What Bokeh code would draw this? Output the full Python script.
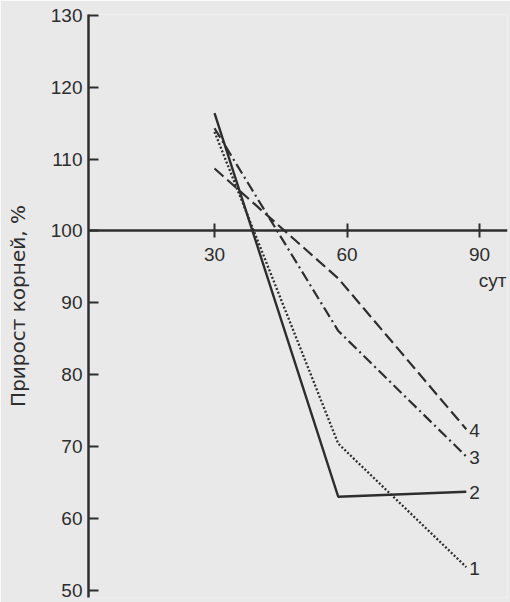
from bokeh.plotting import figure
from bokeh.models import Range1d, LinearAxis, FixedTicker, ColumnDataSource
from bokeh.embed import file_html
from bokeh.resources import INLINE
from bokeh.core.properties import value

# ---- data ----
days = [30, 58, 87]
series_labels = ["1", "2", "3", "4"]
s1 = [113.8, 70.4, 53.2]   # dotted
s2 = [116.4, 63.0, 63.7]   # solid
s3 = [114.3, 86.1, 68.6]   # dash-dot
s4 = [108.7, 93.4, 72.4]   # dashed
y_ticks = [50, 60, 70, 80, 90, 100, 110, 120, 130]
x_ticks = [30, 60, 90]
y_title = "Прирост корней, %"
x_unit = "сут"

INK = "#2e2e2e"
BG = "#e9e9e9"
FONT = "Liberation Sans"

p = figure(width=510, height=602, output_backend="svg", toolbar_location=None,
           x_range=Range1d(1.47, 96.33), y_range=Range1d(48.97, 130.14),
           x_axis_type=None, y_axis_type=None,
           min_border_left=88, min_border_right=3, min_border_top=14, min_border_bottom=5)
p.background_fill_color = BG
p.border_fill_color = BG
p.outline_line_color = None
p.xgrid.visible = False
p.ygrid.visible = False

# y axis
yax = LinearAxis(ticker=FixedTicker(ticks=y_ticks))
yax.axis_line_color = INK
yax.axis_line_width = 2.5
yax.major_tick_line_color = INK
yax.major_tick_line_width = 2
yax.major_tick_in = 10
yax.major_tick_out = 0
yax.minor_tick_line_color = None
yax.major_label_text_font = FONT
yax.major_label_text_font_size = "19px"
yax.major_label_text_color = INK
yax.major_label_standoff = 6
yax.axis_label = y_title
yax.axis_label_text_font = "DejaVu Sans"
yax.axis_label_text_font_size = "20px"
yax.axis_label_text_font_style = "normal"
yax.axis_label_text_color = INK
yax.axis_label_standoff = 18
p.add_layout(yax, "left")

# x axis at y = 100
xax = LinearAxis(ticker=FixedTicker(ticks=x_ticks), fixed_location=100)
xax.axis_line_color = INK
xax.axis_line_width = 2.5
xax.major_tick_line_color = INK
xax.major_tick_line_width = 2
xax.major_tick_in = 7
xax.major_tick_out = 7
xax.minor_tick_line_color = None
xax.major_label_text_font = FONT
xax.major_label_text_font_size = "19px"
xax.major_label_text_color = INK
xax.major_label_standoff = 10
p.add_layout(xax, "below")

styles = [
    dict(line_dash="2 2", line_width=2.3),
    dict(line_dash="solid", line_width=2.4),
    dict(line_dash="11 4 2 4", line_width=2.2),
    dict(line_dash="12 5", line_width=2.2),
]
for ys, st in zip([s1, s2, s3, s4], styles):
    p.line(days, ys, line_color=INK, **st)

src = ColumnDataSource(dict(x=[days[-1]] * 4, y=[s1[-1], s2[-1], s3[-1], s4[-1]], t=series_labels))
p.text(x="x", y="y", text="t", source=src, x_offset=3, y_offset=1,
       text_baseline="middle", text_align="left", text_color=INK,
       text_font=value(FONT), text_font_size="19px")

p.text(x=[p.x_range.end], y=[100], text=[x_unit], x_offset=-1, y_offset=50,
       text_align="right", text_baseline="alphabetic", text_color=INK,
       text_font=value(FONT), text_font_size="19px")

open("out.html", "w").write(file_html(p, INLINE))
